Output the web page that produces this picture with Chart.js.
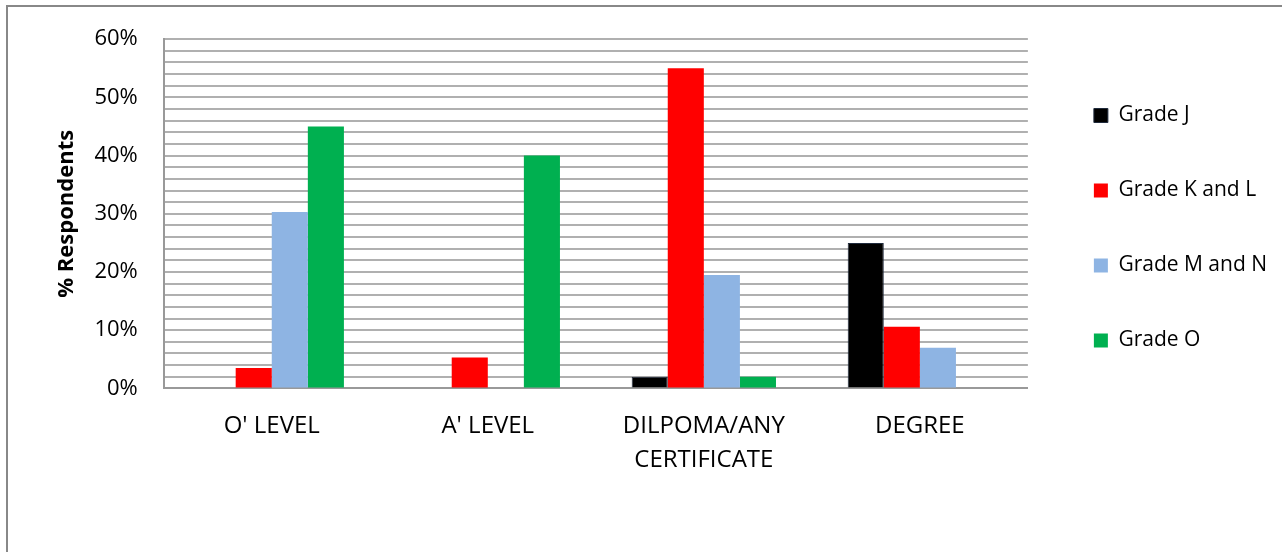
<!DOCTYPE html>
<html>
<head>
<meta charset="utf-8">
<script src="https://cdn.jsdelivr.net/npm/chart.js@4"></script>
<style>
  html, body { margin: 0; padding: 0; background: #fff; }
  #wrap { position: relative; width: 1282px; height: 552px; }
  #frame { position: absolute; left: 6px; top: 5px; right: 0; bottom: 0; border-left: 2px solid #888; border-top: 2px solid #888; }
  canvas { position: absolute; left: 0; top: 0; }
</style>
</head>
<body>
<div id="wrap">
  <div id="frame"></div>
  <canvas id="eduChart" width="1282" height="552"></canvas>
</div>
<script>
// qualification groups along the x axis
const categories = ["O' LEVEL", "A' LEVEL", ["DILPOMA/ANY", "CERTIFICATE"], "DEGREE"];

// share of respondents per grade (fractions)
const gradeJ = [0, 0, 0.02, 0.25];
const gradeKL = [0.035, 0.053, 0.55, 0.106];
const gradeMN = [0.303, 0, 0.195, 0.07];
const gradeO = [0.45, 0.40, 0.02, 0];

const yTicks = [0, 0.1, 0.2, 0.3, 0.4, 0.5, 0.6];

const FONT = "'Open Sans', sans-serif";

// nudge the legend block right and down once the layout is done
const legendNudge = {
  id: "legendNudge",
  afterLayout(chart) {
    const lg = chart.legend;
    if (!lg) return;
    lg.left += 12; lg.right += 12;
    lg.top += 28; lg.bottom += 28;
  }
};

const ctx = document.getElementById("eduChart");

new Chart(ctx, {
  type: "bar",
  data: {
    labels: categories,
    datasets: [
      { label: "Grade J", data: gradeJ, backgroundColor: "#000000", borderColor: "#1f2a3c", borderWidth: 1 },
      { label: "Grade K and L", data: gradeKL, backgroundColor: "#ff0000" },
      { label: "Grade M and N", data: gradeMN, backgroundColor: "#8eb4e3" },
      { label: "Grade O", data: gradeO, backgroundColor: "#00b050" }
    ]
  },
  plugins: [legendNudge],
  options: {
    responsive: false,
    animation: false,
    datasets: {
      bar: { categoryPercentage: 0.668, barPercentage: 1.0, borderSkipped: "bottom" }
    },
    layout: { padding: { top: 23, left: 54, right: 17, bottom: 54 } },
    plugins: {
      tooltip: { enabled: false },
      legend: {
        position: "right",
        align: "start",
        labels: {
          boxWidth: 14,
          boxHeight: 14,
          padding: 54,
          color: "#000",
          font: { family: FONT, size: 21 }
        }
      }
    },
    scales: {
      x: {
        grid: { display: false, drawTicks: false },
        border: { color: "#999", width: 2 },
        ticks: {
          color: "#000",
          padding: 20,
          maxRotation: 0,
          font: { family: FONT, size: 24, lineHeight: 1.45 }
        }
      },
      y: {
        min: 0,
        max: 0.6,
        border: { color: "#999", width: 2 },
        grid: { color: "#b0b0b0", lineWidth: 2, drawTicks: false },
        title: {
          display: true,
          text: "% Respondents",
          color: "#000",
          padding: { top: 0, bottom: -12 },
          font: { family: FONT, size: 22, weight: "bold" }
        },
        afterBuildTicks: (axis) => {
          // minor gridlines every 2%, labelled only at the 10% marks
          const t = [];
          for (let i = 0; i <= 30; i++) t.push({ value: i * 0.02 });
          axis.ticks = t;
        },
        ticks: {
          autoSkip: false,
          color: "#000",
          padding: 26,
          font: { family: FONT, size: 22 },
          callback: (v) => {
            const hit = yTicks.find(t => Math.abs(t - v) < 1e-6);
            return hit === undefined ? "" : Math.round(hit * 100) + "%";
          }
        }
      }
    }
  }
});
</script>
</body>
</html>
